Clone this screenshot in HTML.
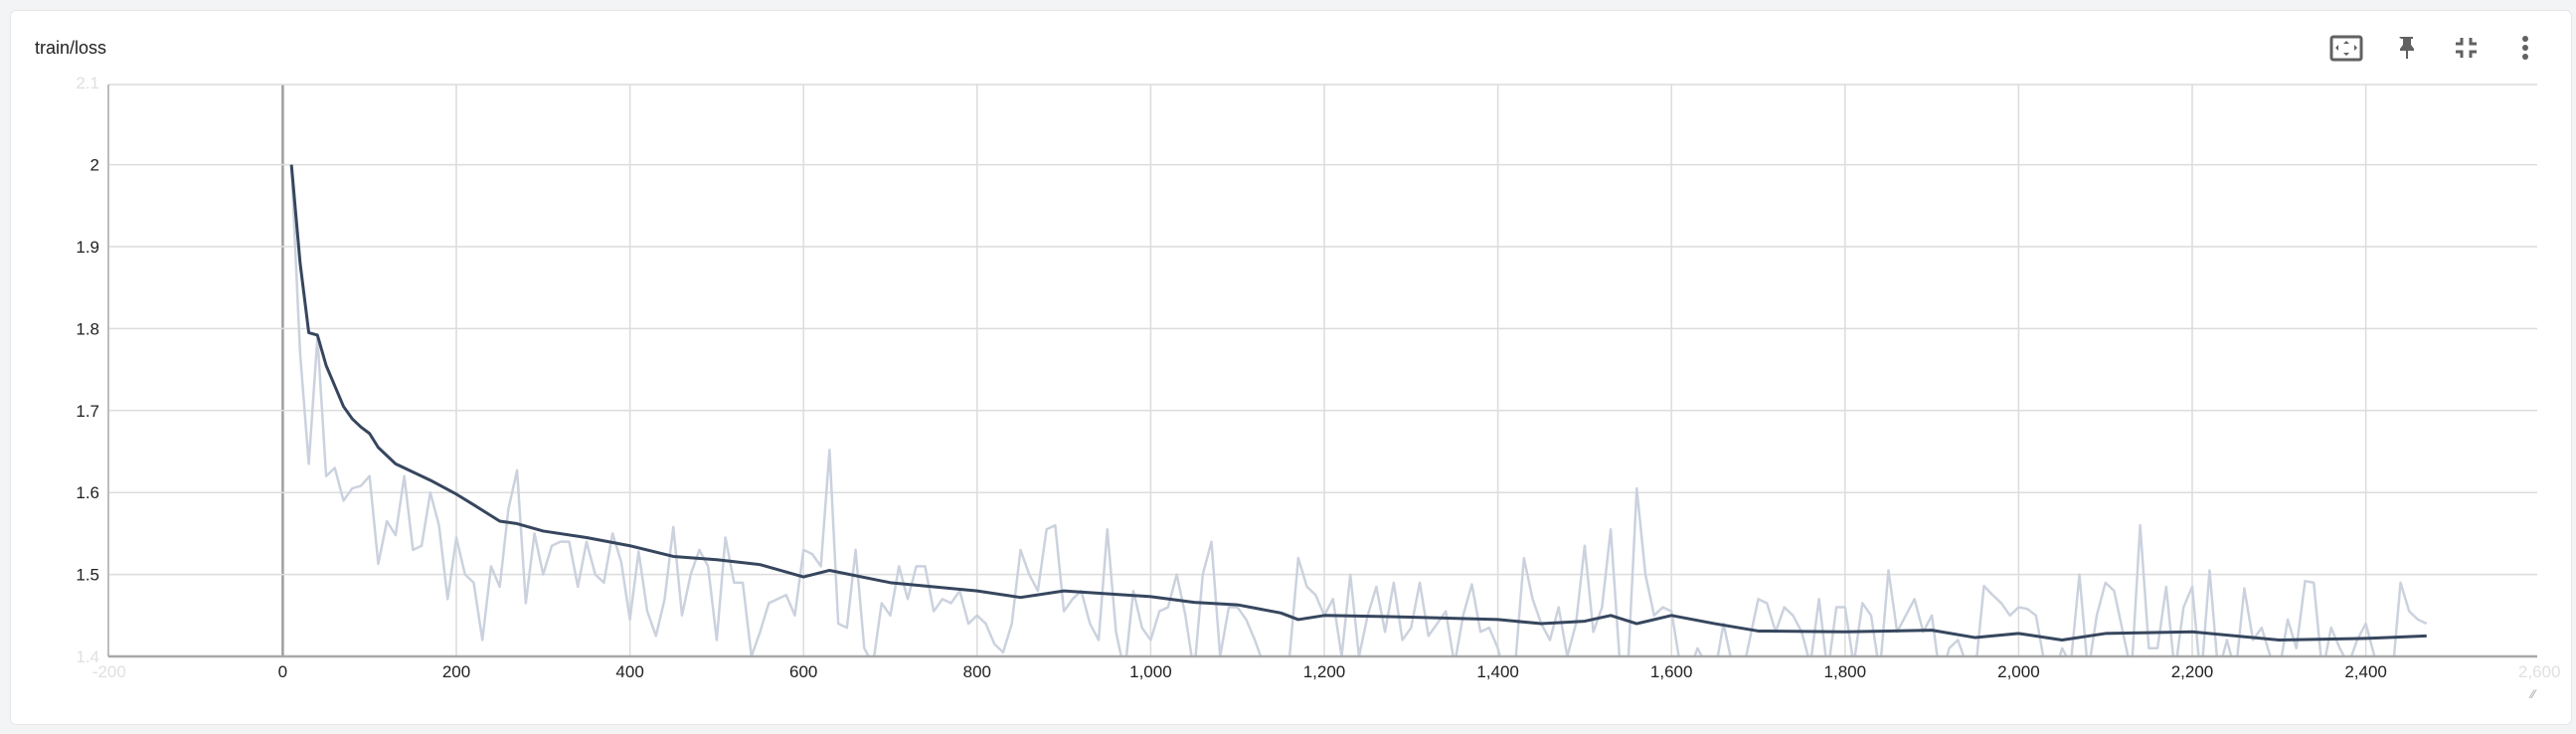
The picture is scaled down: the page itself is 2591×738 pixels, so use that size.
<!DOCTYPE html>
<html><head><meta charset="utf-8"><style>
body{margin:0;background:#f3f4f6;font-family:"Liberation Sans",sans-serif;}
#card{position:absolute;left:10px;top:10px;width:2575px;height:717px;background:#fff;border:1px solid #e6e6e6;border-radius:6px;}
svg{position:absolute;left:0;top:0}
</style></head><body>
<div id="card"></div>
<svg id="chart" width="2591" height="738">
<text x="35" y="54" font-size="18" fill="#212121" font-family="Liberation Sans, sans-serif">train/loss</text>
<g><rect x="2345" y="37" width="30" height="23" rx="2" fill="none" stroke="#616161" stroke-width="3"/><path d="M2360 41l-3 3h6zM2360 56l-3-3h6zM2349 48l3-3v6zM2371 48l-3-3v6z" fill="#616161"/></g>
<g><path d="M2413 37h14v2h-2v6l3 4v2h-6v8h-2v-8h-6v-2l3-4v-6h-2z" fill="#616161"/></g>
<g stroke="#616161" stroke-width="3" fill="none"><path d="M2470 44h6v-6M2491 44h-6v-6M2470 52h6v6M2491 52h-6v6"/></g>
<g fill="#616161"><circle cx="2540" cy="39" r="3"/><circle cx="2540" cy="48" r="3"/><circle cx="2540" cy="57" r="3"/></g>
<g id="grid"></g><g id="series"></g><g id="axes"></g>
<text x="2546" y="702" font-size="12" fill="#9e9e9e">⁄⁄</text>
</svg>
<script>
const rawSteps=[];for(let s=10;s<=2470;s+=10)rawSteps.push(s);
const rawValues=[2.0,1.77,1.635,1.79,1.62,1.63,1.59,1.605,1.608,1.62,1.513,1.565,1.548,1.62,1.53,1.535,1.6,1.56,1.47,1.545,1.5,1.49,1.42,1.51,1.485,1.58,1.627,1.465,1.55,1.5,1.535,1.54,1.54,1.485,1.54,1.5,1.49,1.55,1.515,1.445,1.528,1.455,1.425,1.47,1.558,1.45,1.5,1.53,1.51,1.42,1.545,1.49,1.49,1.4,1.43,1.465,1.47,1.475,1.45,1.53,1.525,1.51,1.652,1.44,1.435,1.53,1.41,1.39,1.465,1.45,1.51,1.47,1.51,1.51,1.455,1.47,1.465,1.48,1.44,1.45,1.44,1.415,1.405,1.44,1.53,1.5,1.48,1.555,1.56,1.455,1.47,1.48,1.44,1.42,1.555,1.43,1.38,1.48,1.435,1.42,1.455,1.46,1.5,1.45,1.38,1.5,1.54,1.4,1.46,1.46,1.445,1.42,1.39,1.4,1.37,1.4,1.52,1.485,1.475,1.45,1.47,1.4,1.5,1.4,1.45,1.485,1.43,1.49,1.42,1.435,1.49,1.425,1.44,1.455,1.39,1.45,1.488,1.43,1.435,1.41,1.37,1.39,1.52,1.47,1.44,1.42,1.46,1.4,1.44,1.535,1.43,1.46,1.555,1.4,1.39,1.605,1.5,1.45,1.46,1.455,1.39,1.38,1.41,1.39,1.38,1.44,1.39,1.37,1.42,1.47,1.465,1.43,1.46,1.45,1.43,1.39,1.47,1.38,1.46,1.46,1.39,1.465,1.45,1.38,1.505,1.43,1.45,1.47,1.43,1.45,1.37,1.41,1.42,1.39,1.38,1.486,1.475,1.465,1.45,1.46,1.458,1.45,1.39,1.37,1.41,1.39,1.5,1.38,1.45,1.49,1.48,1.43,1.38,1.56,1.41,1.41,1.485,1.38,1.46,1.485,1.37,1.505,1.38,1.42,1.38,1.483,1.42,1.435,1.4,1.38,1.445,1.41,1.492,1.49,1.38,1.435,1.41,1.39,1.42,1.44,1.4,1.39,1.37,1.49,1.455,1.445,1.44];
const smoothSteps=[10,20,30,40,50,60,70,80,90,100,110,130,150,170,200,220,250,270,300,350,400,450,500,550,600,630,700,800,850,900,1000,1050,1100,1150,1170,1200,1300,1400,1450,1500,1530,1560,1600,1650,1700,1800,1900,1950,2000,2050,2100,2200,2300,2400,2470];
const smoothValues=[2.0,1.88,1.795,1.792,1.755,1.73,1.705,1.69,1.68,1.672,1.655,1.635,1.625,1.615,1.598,1.585,1.565,1.562,1.553,1.545,1.535,1.522,1.518,1.512,1.497,1.505,1.49,1.48,1.472,1.48,1.473,1.466,1.463,1.453,1.445,1.45,1.448,1.445,1.44,1.443,1.45,1.44,1.45,1.44,1.431,1.43,1.432,1.423,1.428,1.42,1.428,1.43,1.42,1.422,1.425];
const xTicks=[-200,0,200,400,600,800,1000,1200,1400,1600,1800,2000,2200,2400,2600];
const yTicks=[1.4,1.5,1.6,1.7,1.8,1.9,2.0,2.1];
const L=109,R=2552,T=85,B=660,ns="http://www.w3.org/2000/svg";
const X=v=>284.4+v*0.873, Y=v=>B-(v-1.4)*824;
function mk(t,a,p){const e=document.createElementNS(ns,t);for(const k in a)e.setAttribute(k,a[k]);p.appendChild(e);return e;}
const grid=document.getElementById('grid'),axes=document.getElementById('axes'),series=document.getElementById('series');
const fmt=v=>Math.abs(v)>=1000?v.toLocaleString('en-US'):String(v);
xTicks.forEach(v=>{const x=X(v);const faint=(x<L+5||x>R-5);
 if(!faint){const l=mk('line',{x1:x,x2:x,y1:T,y2:B,stroke:v===0?'#9e9e9e':'#dcdcdc','stroke-width':v===0?2.5:1.5},grid);
 
 }
 const t=mk('text',{x:x,y:681,'font-size':17,'text-anchor':'middle',fill:faint?'#e0e0e0':'#212121'},axes);t.textContent=fmt(v);
 
 });
yTicks.forEach(v=>{const y=Y(v);const faint=(v<1.45||v>2.05);
 if(!faint){const l=mk('line',{x1:L,x2:R,y1:y,y2:y,stroke:'#dcdcdc','stroke-width':1.5},grid);
 
 }
 const t=mk('text',{x:100,y:y+6,'font-size':17,'text-anchor':'end',fill:faint?'#e0e0e0':'#212121'},axes);t.textContent=String(v===2?2:v);
 
 });
mk('line',{x1:L,x2:R,y1:T,y2:T,stroke:'#dcdcdc','stroke-width':1.5},grid);
const la=mk('line',{x1:L,x2:L,y1:T,y2:B,stroke:'#bdbdbd','stroke-width':2},axes);


const ba=mk('line',{x1:L,x2:R,y1:B,y2:B,stroke:'#a8a8a8','stroke-width':2.5},axes);


const defs=mk('defs',{},series);const cp=mk('clipPath',{id:'clip'},defs);mk('rect',{x:L,y:T,width:R-L,height:B-T},cp);
const g=mk('g',{'clip-path':'url(#clip)'},series);
const raw=mk('polyline',{points:rawSteps.map((s,i)=>X(s)+','+Y(rawValues[i])).join(' '),fill:'none',stroke:'#cbd2de','stroke-width':2.5,'stroke-linejoin':'round'},g);


const sm=mk('polyline',{points:smoothSteps.map((s,i)=>X(s)+','+Y(smoothValues[i])).join(' '),fill:'none',stroke:'#36465e','stroke-width':3,'stroke-linejoin':'round'},g);


</script>
</body></html>
